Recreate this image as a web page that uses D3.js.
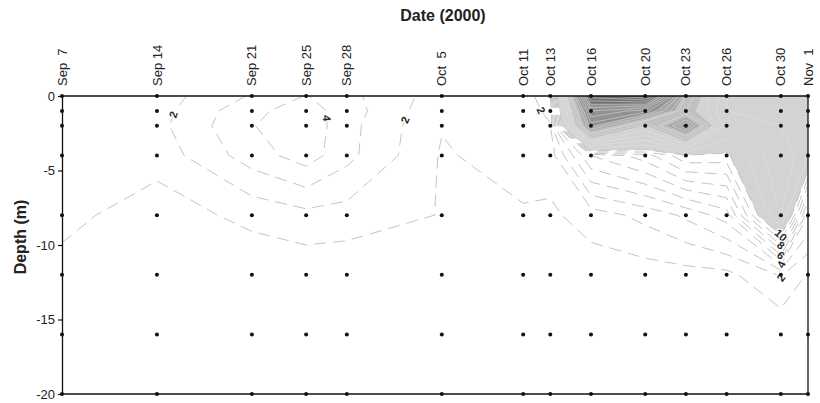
<!DOCTYPE html>
<html><head><meta charset="utf-8">
<script src="https://cdn.jsdelivr.net/npm/d3@7"></script>
<style>
body{margin:0;background:#fff}
svg{display:block}
text{font-family:"Liberation Sans",Arial,Helvetica,sans-serif}
</style>
</head><body>
<svg id="chart" width="820" height="403"></svg>
<script>
// ---------------- data ----------------
const dateLabels = ["Sep  7","Sep 14","Sep 21","Sep 25","Sep 28","Oct  5","Oct 11","Oct 13","Oct 16","Oct 20","Oct 23","Oct 26","Oct 30","Nov  1"];
const sampleDates = ["2000-09-07","2000-09-14","2000-09-21","2000-09-25","2000-09-28","2000-10-05","2000-10-11","2000-10-13","2000-10-16","2000-10-20","2000-10-23","2000-10-26","2000-10-30","2000-11-01"];
const depths = [0, -1, -2, -4, -8, -12, -16, -20];
const depthTicks = [0, -5, -10, -15, -20];

// measured values per sampling date, top to bottom (same order as depths)
const sep07 = [1.3, 1.3, 1.4, 1.5, 1.3, 0.65, 0.4, 0.3];
const sep14 = [1.5, 1.6, 1.7, 1.4, 0.46, 0.2, 0.1, 0.1];
const sep21 = [3.1, 3.75, 3.95, 3.5, 1.3, 0.2, 0.1, 0.1];
const sep25 = [4.05, 4.5, 4.7, 4.5, 1.7, 0.3, 0.15, 0.1];
const sep28 = [3.3, 3.5, 3.35, 3.3, 1.6, 0.2, 0.1, 0.1];
const oct05 = [1.5, 1.2, 1.05, 0.9, 0.95, 0.3, 0.1, 0.1];
const oct11 = [1.3, 1.6, 1.8, 1.4, 0.9, 0.3, 0.2, 0.1];
const oct13 = [3.0, 2.2, 1.95, 1.5, 0.8, 0.3, 0.2, 0.1];
const oct16 = [45, 36, 31, 6, 1.5, 0.4, 0.3, 0.2];
const oct20 = [48, 33, 20, 7.5, 2.3, 0.5, 0.3, 0.2];
const oct23 = [24, 22, 32, 9.8, 3.2, 0.6, 0.3, 0.2];
const oct26 = [14, 14, 14, 9.6, 4.5, 0.7, 0.3, 0.2];
const oct30 = [13, 13, 14, 16, 14, 2.1, 0.15, 0.2];
const nov01 = [13, 13, 13, 12, 4, 0.9, 0.3, 0.2];
const columns = [sep07, sep14, sep21, sep25, sep28, oct05, oct11, oct13, oct16, oct20, oct23, oct26, oct30, nov01];

const lineLevels = [1, 2, 3, 4, 5, 6, 7, 8, 9, 10];
const fillLevels = [10, 20, 25, 30, 40];
const fillColors = ["#d3d3d3", "#c1c1c1", "#a8a8a8", "#929292", "#707070"];
const innerLevels = [12, 14, 16, 18, 20, 22, 24, 25, 26, 28, 30, 32, 34, 36, 38, 40, 42, 44, 46, 48];

const labelValues = [2, 4, 2, 2, 10, 8, 6, 4, 2];
const labelDates = ["2000-09-16", "2000-09-26", "2000-10-02", "2000-10-12", "2000-10-30", "2000-10-30", "2000-10-30", "2000-10-30", "2000-10-30"];
const labelDepths = [-1.5, -1.5, -1.5, -1.1, -9.5, -10.1, -10.7, -11.3, -12.2];

// ---------------- layout ----------------
const svg = d3.select("#chart");
const parse = d3.utcParse("%Y-%m-%d");
const dateObjs = sampleDates.map(parse);
const X0 = 62, X1 = 808, Y0 = 96, Y1 = 394;
const x = d3.scaleUtc().domain([dateObjs[0], dateObjs[dateObjs.length - 1]]).range([X0, X1]);
const y = d3.scaleLinear().domain([0, -20]).range([Y0, Y1]);

const nx = dateObjs.length, ny = depths.length;
const grid = new Array(nx * ny);
for (let j = 0; j < ny; j++) for (let i = 0; i < nx; i++) grid[j * nx + i] = columns[i][j];

const contours = d3.contours().size([nx, ny]).smooth(true);

function gx(c) {
  const k = Math.max(0, Math.min(nx - 1, c - 0.5));
  const i0 = Math.min(nx - 2, Math.floor(k)), f = k - i0;
  return x(dateObjs[i0]) * (1 - f) + x(dateObjs[i0 + 1]) * f;
}
function gy(c) {
  const k = Math.max(0, Math.min(ny - 1, c - 0.5));
  const j0 = Math.min(ny - 2, Math.floor(k)), f = k - j0;
  return y(depths[j0]) * (1 - f) + y(depths[j0 + 1]) * f;
}
const mp = p => [gx(p[0]), gy(p[1])];

function ringsOf(level) {
  const g = contours.contour(grid, level);
  return g.coordinates.map(poly => poly.map(ring => ring.map(mp)));
}
function areaPath(polys) {
  let s = "";
  polys.forEach(poly => poly.forEach(ring => {
    ring.forEach((p, k) => { s += (k ? "L" : "M") + p[0].toFixed(2) + "," + p[1].toFixed(2); });
    s += "Z";
  }));
  return s;
}
const near = (a, b) => Math.abs(a - b) < 0.05;
function onEdge(p, q) {
  return (near(p[0], X0) && near(q[0], X0)) || (near(p[0], X1) && near(q[0], X1)) ||
         (near(p[1], Y0) && near(q[1], Y0)) || (near(p[1], Y1) && near(q[1], Y1));
}
function linesOf(level) {
  const out = [];
  ringsOf(level).forEach(poly => poly.forEach(ring => {
    const pts = ring.slice();
    const closed = pts.length > 1 && pts[0][0] === pts[pts.length - 1][0] && pts[0][1] === pts[pts.length - 1][1];
    if (!closed) pts.push(pts[0]);
    const segs = []; let cur = []; let anyEdge = false;
    for (let k = 0; k < pts.length - 1; k++) {
      const p = pts[k], q = pts[k + 1];
      if (onEdge(p, q)) { anyEdge = true; if (cur.length > 1) segs.push(cur); cur = []; }
      else { if (!cur.length) cur.push(p); cur.push(q); }
    }
    if (cur.length > 1) segs.push(cur);
    if (anyEdge && segs.length > 1) {
      const first = segs[0], last = segs[segs.length - 1];
      const lp = last[last.length - 1], fp = first[0];
      if (lp[0] === fp[0] && lp[1] === fp[1]) { segs[0] = last.concat(first.slice(1)); segs.pop(); }
    }
    segs.forEach(s => out.push(s));
  }));
  return out;
}
const line = d3.line();

// ---------------- fills ----------------
const gFill = svg.append("g");
fillLevels.forEach((lv, k) => {
  gFill.append("path").attr("d", areaPath(ringsOf(lv)))
    .attr("fill", fillColors[k]).attr("fill-rule", "evenodd").attr("stroke", "none");
});

// inner solid lines inside shaded area
const gInner = svg.append("g").attr("fill", "none").attr("stroke", "#e4e4e4").attr("stroke-width", 0.7).attr("stroke-opacity", 0.7);
innerLevels.forEach(lv => linesOf(lv).forEach(l => gInner.append("path").attr("d", line(l))));

// dashed contour lines
const gLines = svg.append("g").attr("fill", "none").attr("stroke", "#c4c4c4").attr("stroke-width", 1).attr("stroke-dasharray", "12,7");
const lineCache = {};
lineLevels.forEach(lv => {
  const ls = linesOf(lv);
  lineCache[lv] = ls;
  ls.forEach(l => gLines.append("path").attr("d", line(l)));
});

// contour labels (placed on the nearest point of the contour to the target)
const gLab = svg.append("g");
labelValues.forEach((lv, k) => {
  const tx = x(parse(labelDates[k])), ty = y(labelDepths[k]);
  const ls = lineCache[lv] || linesOf(lv);
  let best = null, bd = Infinity;
  ls.forEach(l => {
    for (let m = 0; m < l.length - 1; m++) {
      const a = l[m], b = l[m + 1];
      const dx = b[0] - a[0], dy = b[1] - a[1];
      const L2 = dx * dx + dy * dy || 1e-9;
      let t = ((tx - a[0]) * dx + (ty - a[1]) * dy) / L2;
      t = Math.max(0, Math.min(1, t));
      const px = a[0] + t * dx, py = a[1] + t * dy;
      const d = (px - tx) ** 2 + (py - ty) ** 2;
      if (d < bd) { bd = d; best = { px, py, ang: Math.atan2(dy, dx) * 180 / Math.PI }; }
    }
  });
  if (!best) return;
  let ang = best.ang;
  if (ang > 90) ang -= 180;
  if (ang < -90) ang += 180;
  gLab.append("text")
    .attr("transform", `translate(${best.px},${best.py}) rotate(${ang})`)
    .attr("text-anchor", "middle").attr("dy", "0.35em")
    .attr("font-size", 11).attr("font-weight", "bold").attr("fill", "#2a2a2a")
    .attr("stroke", "#fff").attr("stroke-width", 2.5).attr("paint-order", "stroke")
    .text(lv);
});

// sample dots
const gDots = svg.append("g").attr("fill", "#111");
dateObjs.forEach(d => depths.forEach(z => {
  gDots.append("circle").attr("cx", x(d)).attr("cy", y(z)).attr("r", 2);
}));

// ---------------- axes & frame ----------------
const yAxis = d3.axisLeft(y).tickValues(depthTicks).tickSize(4).tickSizeOuter(0).tickPadding(3).tickFormat(d => String(d));
const gy_ = svg.append("g").attr("transform", `translate(${X0},0)`).call(yAxis);
gy_.select(".domain").attr("stroke", "#111").attr("stroke-width", 1.3);
gy_.selectAll(".tick line").attr("stroke", "#111").attr("stroke-width", 1.2);
gy_.selectAll(".tick text").attr("font-size", 13).attr("fill", "#222").attr("font-family", '"Liberation Sans",Arial,sans-serif');

const frame = svg.append("g").attr("stroke", "#111").attr("stroke-width", 1.3);
frame.append("line").attr("x1", X0).attr("x2", X1).attr("y1", Y0).attr("y2", Y0);
frame.append("line").attr("x1", X0).attr("x2", X1).attr("y1", Y1).attr("y2", Y1);
frame.append("line").attr("x1", X1).attr("x2", X1).attr("y1", Y0).attr("y2", Y1);

// date labels (top, rotated)
svg.append("g").selectAll("text").data(dateObjs).join("text")
  .attr("transform", d => `translate(${x(d)},${Y0 - 10}) rotate(-90)`)
  .attr("dy", "0.35em").attr("text-anchor", "start")
  .attr("font-size", 13).attr("fill", "#222")
  .style("white-space", "pre")
  .text((d, i) => dateLabels[i]);

// titles
svg.append("text").attr("x", 443).attr("y", 21).attr("text-anchor", "middle")
  .attr("font-size", 16).attr("font-weight", "bold").attr("fill", "#222").text("Date (2000)");
svg.append("text").attr("transform", "translate(26,237) rotate(-90)").attr("text-anchor", "middle")
  .attr("font-size", 16).attr("font-weight", "bold").attr("fill", "#222").text("Depth (m)");
</script>
</body></html>
